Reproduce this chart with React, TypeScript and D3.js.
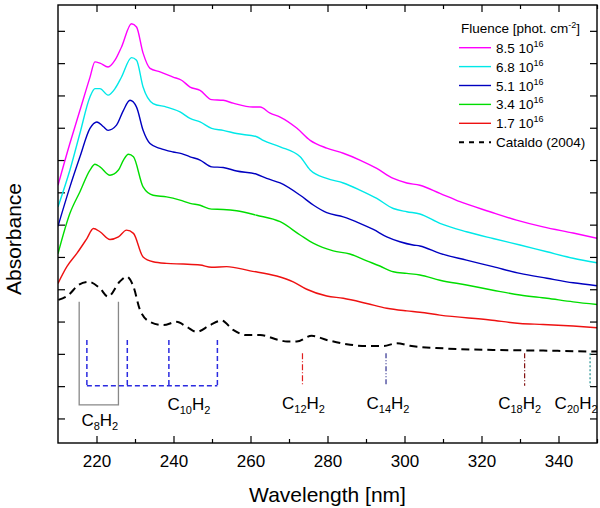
import { useEffect, useRef } from 'react'
import * as d3 from 'd3'

type Pt = [number, number]

// Absorbance spectra (wavelength nm, absorbance in arbitrary offset units)
const fluence85: Pt[] = [
  [210.0, 7.22], [213.1, 8.52], [215.7, 9.54], [218.3, 10.56], [219.6, 11.04], [220.9, 11.0],
  [223.0, 10.88], [224.8, 11.09], [226.5, 11.5], [229.1, 12.22], [230.4, 12.12], [232.1, 11.31],
  [233.9, 10.84], [236.5, 10.73], [239.9, 10.57], [242.1, 10.47], [244.3, 10.26], [246.9, 10.16],
  [249.9, 9.87], [252.9, 9.85], [255.5, 9.76], [260.6, 9.64], [262.5, 9.64], [265.1, 9.45],
  [267.7, 9.33], [272.0, 8.99], [275.5, 8.61], [279.8, 8.37], [284.1, 8.21], [288.4, 8.0],
  [292.8, 7.74], [297.1, 7.43], [300.6, 7.29], [304.0, 7.22], [309.2, 6.97], [314.4, 6.71],
  [322.2, 6.4], [329.1, 6.14], [336.0, 5.93], [343.8, 5.74], [350.0, 5.58],
]
const fluence68: Pt[] = [
  [210.0, 6.55], [213.1, 7.69], [215.7, 8.83], [218.3, 9.95], [219.6, 10.21], [220.9, 10.21],
  [223.0, 10.01], [224.8, 10.21], [226.5, 10.57], [229.1, 11.17], [230.4, 11.09], [232.1, 10.26],
  [234.7, 9.75], [238.2, 9.64], [241.7, 9.49], [244.3, 9.29], [246.9, 9.18], [249.9, 8.98],
  [252.9, 8.92], [256.4, 8.82], [261.6, 8.72], [263.3, 8.61], [267.7, 8.41], [272.9, 8.1],
  [275.5, 7.69], [279.8, 7.43], [284.1, 7.29], [288.4, 7.07], [292.8, 6.81], [297.1, 6.5],
  [300.6, 6.4], [304.0, 6.33], [309.2, 6.04], [316.1, 5.78], [323.0, 5.57], [330.0, 5.37],
  [337.0, 5.16], [343.8, 4.96], [350.0, 4.82],
]
const fluence51: Pt[] = [
  [210.0, 5.95], [213.1, 7.17], [215.7, 8.1], [218.3, 8.98], [220.1, 9.18], [221.8, 9.03],
  [223.0, 8.92], [225.2, 9.08], [227.0, 9.54], [228.7, 9.85], [230.4, 9.64], [232.1, 8.92],
  [233.9, 8.51], [236.5, 8.36], [239.9, 8.25], [242.1, 8.2], [244.3, 8.1], [246.9, 8.0],
  [249.9, 7.79], [252.9, 7.77], [256.4, 7.66], [261.6, 7.56], [264.2, 7.43], [267.7, 7.29],
  [272.9, 6.91], [276.4, 6.6], [279.8, 6.37], [284.1, 6.24], [288.4, 6.04], [291.9, 5.85],
  [295.4, 5.62], [298.8, 5.47], [302.2, 5.37], [304.0, 5.34], [309.2, 5.11], [316.1, 4.9],
  [323.0, 4.7], [330.0, 4.49], [337.0, 4.34], [343.8, 4.2], [350.0, 4.11],
]
const fluence34: Pt[] = [
  [210.0, 5.1], [213.1, 6.35], [215.7, 7.02], [218.3, 7.69], [219.6, 7.87], [220.9, 7.79],
  [223.5, 7.53], [225.7, 7.69], [227.0, 8.0], [228.3, 8.18], [229.6, 8.1], [232.1, 7.17],
  [234.7, 6.91], [238.2, 6.86], [241.7, 6.76], [244.3, 6.66], [246.9, 6.6], [249.9, 6.48],
  [252.9, 6.47], [256.4, 6.43], [261.6, 6.29], [267.7, 6.09], [272.9, 5.68], [276.4, 5.42],
  [281.5, 5.19], [285.8, 5.09], [290.2, 4.88], [293.6, 4.72], [297.1, 4.54], [300.6, 4.49],
  [304.0, 4.44], [309.2, 4.28], [316.1, 4.13], [323.0, 3.97], [330.0, 3.82], [337.0, 3.72],
  [343.8, 3.61], [350.0, 3.53],
]
const fluence17: Pt[] = [
  [210.0, 4.18], [212.3, 4.7], [214.9, 5.11], [217.5, 5.57], [219.2, 5.88], [220.9, 5.78],
  [223.5, 5.54], [225.7, 5.62], [227.8, 5.83], [229.6, 5.73], [232.1, 5.0], [234.7, 4.85],
  [238.2, 4.8], [242.5, 4.78], [246.9, 4.75], [249.9, 4.68], [253.8, 4.7], [259.9, 4.57],
  [266.8, 4.41], [271.1, 4.23], [274.6, 4.0], [279.8, 3.79], [284.1, 3.72], [290.2, 3.56],
  [295.4, 3.41], [300.6, 3.33], [304.0, 3.29], [309.2, 3.2], [322.2, 3.05], [330.0, 2.94],
  [336.0, 2.91], [343.8, 2.86], [350.0, 2.81],
]
const cataldo: Pt[] = [
  [210.1, 3.67], [212.7, 3.82], [215.3, 4.13], [217.9, 4.23], [220.9, 4.03], [223.0, 3.77],
  [226.0, 4.23], [227.8, 4.39], [229.6, 4.08], [231.3, 3.36], [233.9, 2.99], [237.4, 2.89],
  [240.8, 2.99], [243.4, 2.84], [246.0, 2.68], [249.5, 2.89], [252.5, 3.03], [255.5, 2.74],
  [259.0, 2.58], [262.5, 2.58], [267.3, 2.43], [269.5, 2.38], [272.0, 2.38], [275.9, 2.56],
  [279.8, 2.43], [285.0, 2.3], [290.2, 2.24], [294.5, 2.24], [298.0, 2.33], [301.4, 2.25],
  [310.1, 2.17], [323.0, 2.12], [336.0, 2.1], [350.0, 2.07],
]

const seriesData = [fluence85, fluence68, fluence51, fluence34, fluence17]
const seriesValues = ['8.5', '6.8', '5.1', '3.4', '1.7']
const seriesColors = ['#ff00ff', '#00e8e8', '#0000c0', '#00dd00', '#ee1111']

// polyyne band positions (nm)
const c8Lines = [215.5, 225.7]
const c10Lines = [217.5, 228.0, 238.8, 251.4]
const singleBands = [
  { n: '12', nm: 273.5 },
  { n: '14', nm: 295.2 },
  { n: '18', nm: 331.2 },
  { n: '20', nm: 348.2 },
]

const xMajor = [220, 240, 260, 280, 300, 320, 340]
const xMinor = [230, 250, 270, 290, 310, 330, 350]
const yTicks = d3.range(0, 13)

const FONT = '"Liberation Sans", Arial, sans-serif'

const App = () => {
  const svgRef = useRef<SVGSVGElement>(null)

  useEffect(() => {
    if (!svgRef.current) return
    const svg = d3.select(svgRef.current)
    svg.selectAll('*').remove()

    const left = 58, right = 597, top = 5, bottom = 443
    const x = d3.scaleLinear().domain([210, 350]).range([left, right])
    const y = d3.scaleLinear().domain([-0.76, 12.8]).range([bottom, top])

    svg.append('defs').append('clipPath').attr('id', 'plotclip')
      .append('rect').attr('x', left).attr('y', top)
      .attr('width', right - left).attr('height', bottom - top)

    // axes with inward ticks
    const styleAxis = (g: d3.Selection<SVGGElement, unknown, null, undefined>) => {
      g.select('.domain').remove()
      g.selectAll('line').attr('stroke', '#000').attr('stroke-width', 1.2)
    }
    svg.append('g').attr('transform', `translate(0,${bottom})`)
      .call(d3.axisBottom(x).tickValues(xMajor).tickSize(-7).tickPadding(12))
      .call(styleAxis)
      .selectAll('text')
      .style('font-family', FONT).style('font-size', '17px').attr('fill', '#000')
    svg.append('g').attr('transform', `translate(0,${bottom})`)
      .call(d3.axisBottom(x).tickValues(xMinor).tickSize(-4).tickFormat(() => ''))
      .call(styleAxis)
    svg.append('g').attr('transform', `translate(0,${top})`)
      .call(d3.axisTop(x).tickValues(xMajor).tickSize(-7).tickFormat(() => ''))
      .call(styleAxis)
    svg.append('g').attr('transform', `translate(0,${top})`)
      .call(d3.axisTop(x).tickValues(xMinor).tickSize(-4).tickFormat(() => ''))
      .call(styleAxis)
    svg.append('g').attr('transform', `translate(${left},0)`)
      .call(d3.axisLeft(y).tickValues(yTicks).tickSize(-7).tickFormat(() => ''))
      .call(styleAxis)
    svg.append('g').attr('transform', `translate(${right},0)`)
      .call(d3.axisRight(y).tickValues(yTicks).tickSize(-7).tickFormat(() => ''))
      .call(styleAxis)

    const line = d3.line<Pt>().x(d => x(d[0])).y(d => y(d[1])).curve(d3.curveMonotoneX)
    const plot = svg.append('g').attr('clip-path', 'url(#plotclip)')

    // band markers
    const c8Top = 3.61, c8Bottom = 0.42
    plot.append('path')
      .attr('d', `M${x(c8Lines[0])},${y(c8Top)}V${y(c8Bottom)}H${x(c8Lines[1])}V${y(c8Top)}`)
      .attr('fill', 'none').attr('stroke', '#888').attr('stroke-width', 1.3)

    const c10Top = 2.43, c10Bottom = 1.01
    plot.append('line')
      .attr('x1', x(c10Lines[0])).attr('x2', x(c10Lines[c10Lines.length - 1]))
      .attr('y1', y(c10Bottom)).attr('y2', y(c10Bottom))
      .attr('stroke', '#2b2be0').attr('stroke-width', 1.5).attr('stroke-dasharray', '5,3')
    c10Lines.forEach(v => {
      plot.append('line')
        .attr('x1', x(v)).attr('x2', x(v)).attr('y1', y(c10Top)).attr('y2', y(c10Bottom))
        .attr('stroke', '#2b2be0').attr('stroke-width', 1.5).attr('stroke-dasharray', '5,3')
    })

    const bandStyles = [
      { color: '#e02020', dash: '6,2,1,2' },
      { color: '#303090', dash: '5,2,1,2,1,2' },
      { color: '#801010', dash: '5,2,1,2' },
      { color: '#209090', dash: '2,2' },
    ]
    singleBands.forEach((b, i) => {
      plot.append('line')
        .attr('x1', x(b.nm)).attr('x2', x(b.nm)).attr('y1', y(2.02)).attr('y2', y(1.01))
        .attr('stroke', bandStyles[i].color).attr('stroke-width', 1.2)
        .attr('stroke-dasharray', bandStyles[i].dash)
    })

    // spectra
    plot.append('path').datum(cataldo).attr('d', line)
      .attr('fill', 'none').attr('stroke', '#000').attr('stroke-width', 2)
      .attr('stroke-dasharray', '8,5')
    seriesData.forEach((s, i) => {
      plot.append('path').datum(s).attr('d', line)
        .attr('fill', 'none').attr('stroke', seriesColors[i]).attr('stroke-width', 1.4)
    })

    // frame
    svg.append('rect').attr('x', left).attr('y', top)
      .attr('width', right - left).attr('height', bottom - top)
      .attr('fill', 'none').attr('stroke', '#000').attr('stroke-width', 1.4)

    // band labels
    const label = (cx: number, by: number, n: string, anchor: string) => {
      const t = svg.append('text').attr('x', cx).attr('y', by)
        .attr('text-anchor', anchor)
        .style('font-family', FONT).style('font-size', '17px').attr('fill', '#000')
      t.append('tspan').text('C')
      t.append('tspan').attr('dy', 4).style('font-size', '11px').text(n)
      t.append('tspan').attr('dy', -4).text('H')
      t.append('tspan').attr('dy', 4).style('font-size', '11px').text('2')
    }
    label(x((c8Lines[0] + c8Lines[1]) / 2) + 1, 426, '8', 'middle')
    label(x(c10Lines[2]) + 20, 410, '10', 'middle')
    const labelDx = [1, 2, -5, -14]
    singleBands.forEach((b, i) => label(x(b.nm) + labelDx[i], 409, b.n, 'middle'))

    // axis titles
    svg.append('text').attr('x', (left + right) / 2).attr('y', 502)
      .attr('text-anchor', 'middle')
      .style('font-family', FONT).style('font-size', '21px').text('Wavelength [nm]')
    svg.append('text').attr('transform', `translate(21,${(top + bottom) / 2 + 15}) rotate(-90)`)
      .attr('text-anchor', 'middle')
      .style('font-family', FONT).style('font-size', '21px').text('Absorbance')

    // legend
    const legend = svg.append('g').style('font-family', FONT)
    const title = legend.append('text').attr('x', 461).attr('y', 33).style('font-size', '13.5px')
    title.append('tspan').text('Fluence [phot. cm')
    title.append('tspan').attr('dy', -5).style('font-size', '9px').text('-2')
    title.append('tspan').attr('dy', 5).text(']')

    const rowY = (i: number) => 47.7 + i * 18.9
    seriesValues.forEach((v, i) => {
      legend.append('line').attr('x1', 459).attr('x2', 491)
        .attr('y1', rowY(i)).attr('y2', rowY(i))
        .attr('stroke', seriesColors[i]).attr('stroke-width', 1.4)
      const t = legend.append('text').attr('x', 496).attr('y', rowY(i) + 5).style('font-size', '13.5px')
      t.append('tspan').text(`${v} 10`)
      t.append('tspan').attr('dy', -6).style('font-size', '9px').text('16')
    })
    legend.append('line').attr('x1', 459).attr('x2', 491)
      .attr('y1', rowY(5)).attr('y2', rowY(5))
      .attr('stroke', '#000').attr('stroke-width', 2).attr('stroke-dasharray', '5,5')
    legend.append('text').attr('x', 496).attr('y', rowY(5) + 5).style('font-size', '13.5px')
      .text('Cataldo (2004)')
  }, [])

  return (
    <svg
      ref={svgRef}
      width={600}
      height={508}
      style={{ position: 'absolute', left: 0, top: 0, background: '#fff' }}
    />
  )
}

export default App
